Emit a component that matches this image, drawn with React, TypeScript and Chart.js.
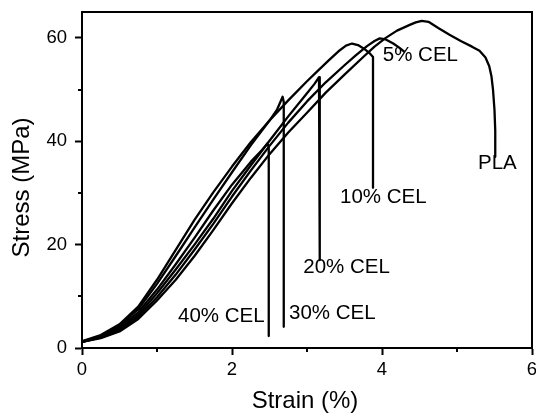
import React, { useEffect, useRef } from 'react';
import { Chart, registerables } from 'chart.js';

Chart.register(...registerables);

// Axis ticks
const xTicks = [0, 2, 4, 6];
const yTicks = [0, 20, 40, 60];
const xMinorTicks = [1, 3, 5];
const yMinorTicks = [10, 30, 50];
const xMin = 0;
const xMax = 6;
const yMin = 0;
const yMax = 65;

// Stress–strain curves (strain %, stress MPa)
const plaStrain = [0, 0.25, 0.5, 0.75, 1.0, 1.25, 1.5, 1.75, 2.0, 2.25, 2.5, 2.75, 3.0, 3.25, 3.5, 3.75, 3.9, 4.05, 4.2, 4.37, 4.45, 4.53, 4.62, 4.75, 4.9, 5.05, 5.2, 5.3, 5.38, 5.43, 5.46, 5.48, 5.5, 5.51, 5.51];
const plaStress = [1.2, 1.9, 3.2, 5.6, 9.2, 13.2, 17.8, 22.8, 28.0, 32.9, 37.5, 41.7, 45.5, 49.4, 52.9, 56.3, 58.3, 60.0, 61.4, 62.5, 63.0, 63.3, 63.1, 61.9, 60.6, 59.4, 58.3, 57.5, 56.2, 54.5, 52.5, 50.0, 46.0, 42.0, 37.0];

const cel5Strain = [0, 0.25, 0.5, 0.75, 1.0, 1.25, 1.5, 1.75, 2.0, 2.25, 2.5, 2.75, 3.0, 3.25, 3.5, 3.65, 3.8, 3.9, 3.97, 4.05, 4.15, 4.23, 4.3];
const cel5Stress = [1.2, 2.0, 3.4, 6.0, 9.8, 14.2, 19.0, 24.0, 29.3, 34.3, 39.1, 43.6, 47.7, 51.4, 54.7, 56.6, 58.4, 59.4, 59.9, 59.7, 58.9, 58.1, 57.3];

const cel10Strain = [0, 0.25, 0.5, 0.75, 1.0, 1.25, 1.5, 1.75, 2.0, 2.25, 2.5, 2.75, 3.0, 3.15, 3.3, 3.42, 3.52, 3.6, 3.68, 3.76, 3.83, 3.88, 3.88];
const cel10Stress = [1.3, 2.5, 4.6, 8.0, 13.2, 19.0, 24.8, 30.1, 35.1, 39.8, 44.0, 47.9, 51.6, 53.7, 55.8, 57.4, 58.5, 58.9, 58.6, 57.9, 57.1, 56.3, 31.0];

const cel20Strain = [0, 0.25, 0.5, 0.75, 1.0, 1.25, 1.5, 1.75, 2.0, 2.25, 2.5, 2.75, 3.0, 3.1, 3.16, 3.17, 3.17];
const cel20Stress = [1.2, 2.1, 3.7, 6.4, 10.6, 15.2, 20.0, 25.0, 30.4, 35.3, 40.1, 44.8, 49.3, 51.1, 52.4, 51.6, 17.0];

const cel30Strain = [0, 0.25, 0.5, 0.75, 1.0, 1.25, 1.5, 1.75, 2.0, 2.25, 2.5, 2.6, 2.675, 2.69, 2.69];
const cel30Stress = [1.2, 2.3, 4.3, 7.5, 12.4, 17.8, 23.3, 28.7, 34.0, 39.2, 44.0, 46.1, 48.6, 47.6, 4.1];

const cel40Strain = [0, 0.25, 0.5, 0.75, 1.0, 1.25, 1.5, 1.75, 2.0, 2.25, 2.4, 2.475, 2.49, 2.49];
const cel40Stress = [1.2, 2.2, 4.0, 6.9, 11.3, 16.2, 21.3, 26.6, 31.6, 36.0, 38.3, 39.6, 38.8, 2.3];

// Curve labels placed at data coordinates (left edge, vertical middle)
const curveLabels = ['PLA', '5% CEL', '10% CEL', '20% CEL', '30% CEL', '40% CEL'];
const labelStrain = [5.28, 4.01, 3.44, 2.95, 2.76, 1.28];
const labelStress = [35.8, 56.7, 29.1, 15.6, 6.8, 6.1];

const xTitle = 'Strain (%)';
const yTitle = 'Stress (MPa)';

const FONT = '"Liberation Sans", Arial, Helvetica, sans-serif';

function toPoints(xs: number[], ys: number[]) {
  return xs.map((x, i) => ({ x, y: ys[i] }));
}

const seriesList = [
  { name: 'PLA', xs: plaStrain, ys: plaStress },
  { name: '5% CEL', xs: cel5Strain, ys: cel5Stress },
  { name: '10% CEL', xs: cel10Strain, ys: cel10Stress },
  { name: '20% CEL', xs: cel20Strain, ys: cel20Stress },
  { name: '30% CEL', xs: cel30Strain, ys: cel30Stress },
  { name: '40% CEL', xs: cel40Strain, ys: cel40Stress },
];

const decorPlugin = {
  id: 'decor',
  afterDraw(chart: any) {
    const { ctx, chartArea, scales } = chart;
    const xs = scales.x;
    const ys = scales.y;
    ctx.save();
    // frame
    ctx.strokeStyle = '#000';
    ctx.lineWidth = 2;
    ctx.strokeRect(chartArea.left, chartArea.top, chartArea.right - chartArea.left, chartArea.bottom - chartArea.top);
    // minor ticks
    ctx.beginPath();
    xMinorTicks.forEach((v) => {
      const px = Math.round(xs.getPixelForValue(v));
      ctx.moveTo(px, chartArea.bottom);
      ctx.lineTo(px, chartArea.bottom + 4);
    });
    yMinorTicks.forEach((v) => {
      const py = Math.round(ys.getPixelForValue(v));
      ctx.moveTo(chartArea.left - 4, py);
      ctx.lineTo(chartArea.left, py);
    });
    ctx.stroke();
    // curve labels
    ctx.fillStyle = '#000';
    ctx.font = `20.5px ${FONT}`;
    ctx.textAlign = 'left';
    ctx.textBaseline = 'middle';
    curveLabels.forEach((t, i) => {
      ctx.fillText(t, xs.getPixelForValue(labelStrain[i]), ys.getPixelForValue(labelStress[i]));
    });
    // axis titles
    ctx.font = `24px ${FONT}`;
    ctx.textAlign = 'center';
    ctx.textBaseline = 'middle';
    ctx.fillText(xTitle, (chartArea.left + chartArea.right) / 2 - 2, 401);
    ctx.translate(22.5, (chartArea.top + chartArea.bottom) / 2 + 7.5);
    ctx.rotate(-Math.PI / 2);
    ctx.fillText(yTitle, 0, 0);
    ctx.restore();
  },
};

export default function App() {
  const canvasRef = useRef<HTMLCanvasElement | null>(null);

  useEffect(() => {
    if (!canvasRef.current) return;
    Chart.defaults.color = '#000';
    const chart = new Chart(canvasRef.current, {
      type: 'scatter',
      data: {
        datasets: seriesList.map((s) => ({
          label: s.name,
          data: toPoints(s.xs, s.ys),
          showLine: true,
          borderColor: '#000',
          backgroundColor: '#000',
          borderWidth: 2.3,
          pointRadius: 0,
          pointHoverRadius: 0,
          tension: 0,
          borderJoinStyle: 'round',
          borderCapStyle: 'butt',
        })),
      },
      options: {
        responsive: false,
        animation: false,
        devicePixelRatio: 1,
        layout: { padding: { left: 0, right: 4, top: 12, bottom: 0 } },
        plugins: {
          legend: { display: false },
          tooltip: { enabled: false },
          title: { display: false },
        },
        scales: {
          x: {
            type: 'linear',
            min: xMin,
            max: xMax,
            afterBuildTicks: (s: any) => {
              s.ticks = xTicks.map((v) => ({ value: v }));
            },
            afterFit: (s: any) => {
              s.height = 69;
              s.paddingLeft = 0;
              s.paddingRight = 0;
            },
            ticks: {
              autoSkip: false,
              maxRotation: 0,
              padding: 6,
              color: '#000',
              font: { family: FONT, size: 18.5, lineHeight: 1 },
            },
            grid: {
              drawOnChartArea: false,
              drawTicks: true,
              tickLength: 7,
              tickWidth: 2,
              tickColor: '#000',
            },
            border: { display: true, color: '#000', width: 2 },
          },
          y: {
            type: 'linear',
            min: yMin,
            max: yMax,
            afterBuildTicks: (s: any) => {
              s.ticks = yTicks.map((v) => ({ value: v }));
            },
            afterFit: (s: any) => {
              s.width = 82;
              s.paddingTop = 0;
              s.paddingBottom = 0;
            },
            ticks: {
              autoSkip: false,
              padding: 8,
              color: '#000',
              font: { family: FONT, size: 18.5, lineHeight: 1 },
            },
            grid: {
              drawOnChartArea: false,
              drawTicks: true,
              tickLength: 7,
              tickWidth: 2,
              tickColor: '#000',
            },
            border: { display: true, color: '#000', width: 2 },
          },
        },
      },
      plugins: [decorPlugin],
    });
    return () => chart.destroy();
  }, []);

  return (
    <div style={{ position: 'absolute', left: 0, top: 0, width: 536, height: 417, background: '#fff' }}>
      <canvas ref={canvasRef} width={536} height={417} style={{ display: 'block' }} />
    </div>
  );
}
